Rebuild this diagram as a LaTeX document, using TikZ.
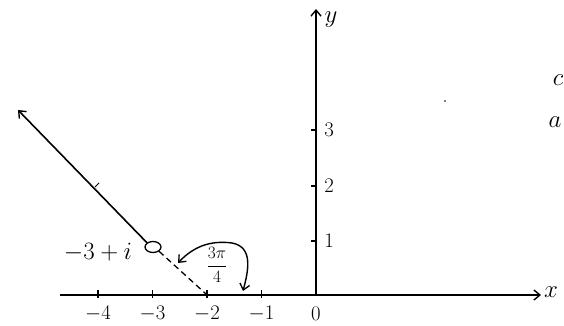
\documentclass[tikz,border=0pt]{standalone}
\usetikzlibrary{arrows.meta,shapes.geometric}
\begin{document}
\begin{tikzpicture}[x=1pt,y=-1pt,
  axisline/.style={line width=1.6pt},
  tip/.style={-{Straight Barb[length=6pt,width=10pt,line width=1.4pt]}},
  ticklab/.style={font=\fontsize{21}{23}\selectfont, inner sep=0pt},
  bigtxt/.style={font=\fontsize{27}{29}\selectfont\itshape, inner sep=0pt}]
\useasboundingbox (0,0) rectangle (564,326);
% axes
\coordinate (O) at (316,295);
\coordinate (xs) at (60,295);
\coordinate (xe) at (541,295);
\coordinate (ye) at (316,9);
\draw[axisline,tip] (xs) -- (xe);
\draw[axisline,tip] (O) -- (ye);
\node[bigtxt] (xl) at (551,292) {$x$};
\node[bigtxt] (yl) at (331,20) {$y$};
% x ticks
\foreach \k/\xx in {4/98,3/152.5,2/207,1/261.5}{
  \draw[line width=1.2pt] (\xx,290) -- (\xx,298);
  \node[ticklab] (xt\k) at (\xx,314) {$-\k$};
}
\node[ticklab] (xt0) at (316,314) {$0$};
% y ticks
\foreach \k/\yy in {1/241,2/186,3/130}{
  \draw[line width=1.2pt] (311,\yy) -- (316,\yy);
  \node[ticklab] (yt\k) at (329,\yy) {$\k$};
}
% point -3+i
\node[draw, line width=1.3pt, ellipse, minimum width=16pt, minimum height=11pt, inner sep=0pt] (P) at (153,247) {};
\node[font=\fontsize{23}{25}\selectfont, inner sep=0pt] (Pl) at (98,252) {$-3+i$};
% ray
\coordinate (R) at (18,110);
\draw[axisline,tip] (P.north west) -- (R);
\draw[line width=1pt] (95,187) -- (99,183);
% dashed line to -2
\coordinate (m2) at (206,294);
\draw[line width=1.3pt, dash pattern=on 6pt off 4pt] (P.south east) -- (m2);
% angle arc
\coordinate (A1) at (178,263);
\coordinate (A2) at (243,291);
\coordinate (Atop) at (232,243);
\draw[line width=1.4pt,{Straight Barb[length=6pt,width=10pt,line width=1.3pt]}-{Straight Barb[length=6pt,width=10pt,line width=1.3pt]}]
  (A1) .. controls (193,247) and (210,240) .. (Atop)
       .. controls (254,247) and (248,272) .. (A2);
\node[font=\fontsize{16}{18}\selectfont, inner sep=0pt] (ang) at (217,265) {$\displaystyle\frac{3\pi}{4}$};
% right-side letters
\node[bigtxt] (c) at (558,80) {$c$};
\node[bigtxt] (a) at (555,122) {$a$};
\fill (445,101) circle (0.9pt);
\end{tikzpicture}
\end{document}
